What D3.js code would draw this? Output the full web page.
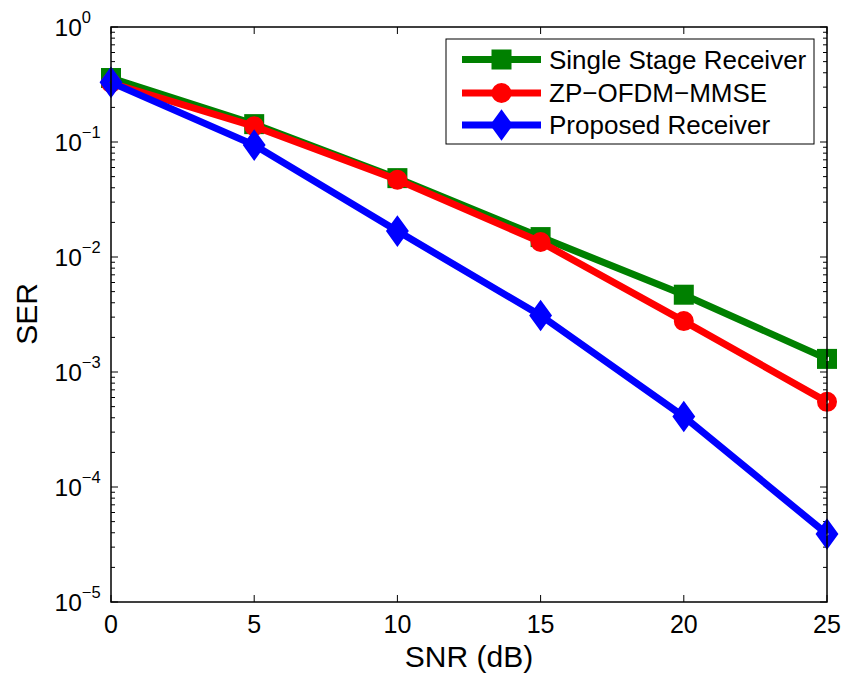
<!DOCTYPE html>
<html>
<head>
<meta charset="utf-8">
<script src="https://cdn.jsdelivr.net/npm/d3@7"></script>
<style>
  body { margin: 0; background: #fff; }
  svg { font-family: "Liberation Sans", Arial, sans-serif; }
</style>
</head>
<body>
<svg id="chart" width="843" height="679"></svg>
<script>
// **** Data
const snr = [0, 5, 10, 15, 20, 25];
const singleStage = [0.36, 0.143, 0.0485, 0.0149, 0.0047, 0.0013];
const zpOfdm = [0.326, 0.137, 0.047, 0.0135, 0.00277, 0.00055];
const proposed = [0.33, 0.094, 0.0168, 0.0031, 0.00041, 0.000039];
const xTicks = [0, 5, 10, 15, 20, 25];
const yExponents = [0, -1, -2, -3, -4, -5];

const series = [
  { name: "Single Stage Receiver", values: singleStage, color: "#008000", marker: "square" },
  { name: "ZP\u2212OFDM\u2212MMSE", values: zpOfdm, color: "#ff0000", marker: "circle" },
  { name: "Proposed Receiver", values: proposed, color: "#0000ff", marker: "diamond" }
];

// **** Layout
const plotLeft = 111, plotRight = 827, plotTop = 27, plotBottom = 602;
const svg = d3.select("#chart");

const x = d3.scaleLinear().domain([0, 25]).range([plotLeft, plotRight]);
const y = d3.scaleLog().domain([1e-5, 1]).range([plotBottom, plotTop]);

// **** Ticks (inward, both sides)
const g = svg.append("g").attr("stroke", "#000").attr("stroke-width", 1);
xTicks.forEach(t => {
  g.append("line").attr("x1", x(t)).attr("x2", x(t)).attr("y1", plotBottom).attr("y2", plotBottom - 7);
  g.append("line").attr("x1", x(t)).attr("x2", x(t)).attr("y1", plotTop).attr("y2", plotTop + 7);
});
yExponents.forEach(e => {
  const v = Math.pow(10, e);
  g.append("line").attr("x1", plotLeft).attr("x2", plotLeft + 7).attr("y1", y(v)).attr("y2", y(v));
  g.append("line").attr("x1", plotRight).attr("x2", plotRight - 7).attr("y1", y(v)).attr("y2", y(v));
  if (e > -5) {
    for (let k = 2; k <= 9; k++) {
      const m = v * k / 10;
      g.append("line").attr("x1", plotLeft).attr("x2", plotLeft + 4).attr("y1", y(m)).attr("y2", y(m));
      g.append("line").attr("x1", plotRight).attr("x2", plotRight - 4).attr("y1", y(m)).attr("y2", y(m));
    }
  }
});

// **** Tick labels
svg.selectAll(".xl").data(xTicks).enter().append("text")
  .attr("x", d => x(d)).attr("y", 633)
  .attr("text-anchor", "middle").attr("font-size", 25)
  .text(d => d);

yExponents.forEach(e => {
  const t = svg.append("text")
    .attr("x", 54.5).attr("y", y(Math.pow(10, e)) + 8.5)
    .attr("font-size", 24.5);
  t.append("tspan").text("10");
  t.append("tspan").attr("dy", -13).attr("font-size", 16.5)
    .text(e === 0 ? "0" : "\u2212" + (-e));
});

// **** Axis labels
svg.append("text").attr("x", 469).attr("y", 667)
  .attr("text-anchor", "middle").attr("font-size", 30).text("SNR (dB)");
svg.append("text").attr("transform", "translate(37,314) rotate(-90)")
  .attr("text-anchor", "middle").attr("font-size", 30).text("SER");

// **** Marker drawing
function drawMarker(sel, type, cx, cy, color) {
  const common = s => s.attr("fill", "none").attr("stroke", color)
    .attr("stroke-width", 8).attr("stroke-linejoin", "miter");
  if (type === "square") {
    common(sel.append("rect").attr("x", cx - 6).attr("y", cy - 6)
      .attr("width", 12).attr("height", 12));
  } else if (type === "circle") {
    common(sel.append("circle").attr("cx", cx).attr("cy", cy).attr("r", 6));
  } else {
    common(sel.append("path").attr("d",
      `M${cx},${cy - 9}L${cx + 6.5},${cy}L${cx},${cy + 9}L${cx - 6.5},${cy}Z`));
  }
}

// **** Lines and markers
const line = d3.line().x((d, i) => x(snr[i])).y(d => y(d));
series.forEach(s => {
  const sg = svg.append("g");
  sg.append("path").attr("d", line(s.values))
    .attr("fill", "none").attr("stroke", s.color).attr("stroke-width", 7);
  s.values.forEach((v, i) => drawMarker(sg, s.marker, x(snr[i]), y(v), s.color));
});

// **** Plot frame
svg.append("rect").attr("x", plotLeft).attr("y", plotTop)
  .attr("width", plotRight - plotLeft).attr("height", plotBottom - plotTop)
  .attr("fill", "none").attr("stroke", "#000").attr("stroke-width", 1.5);

// **** Legend
const lg = svg.append("g");
lg.append("rect").attr("x", 446).attr("y", 39).attr("width", 368).attr("height", 105)
  .attr("fill", "#fff").attr("stroke", "#000").attr("stroke-width", 1);
const rowY = [59.5, 93, 125];
series.forEach((s, i) => {
  lg.append("line").attr("x1", 462).attr("x2", 541).attr("y1", rowY[i]).attr("y2", rowY[i])
    .attr("stroke", s.color).attr("stroke-width", 7);
  drawMarker(lg, s.marker, 501.5, rowY[i], s.color);
  lg.append("text").attr("x", 549).attr("y", rowY[i] + 9)
    .attr("font-size", 26).text(s.name);
});
</script>
</body>
</html>
